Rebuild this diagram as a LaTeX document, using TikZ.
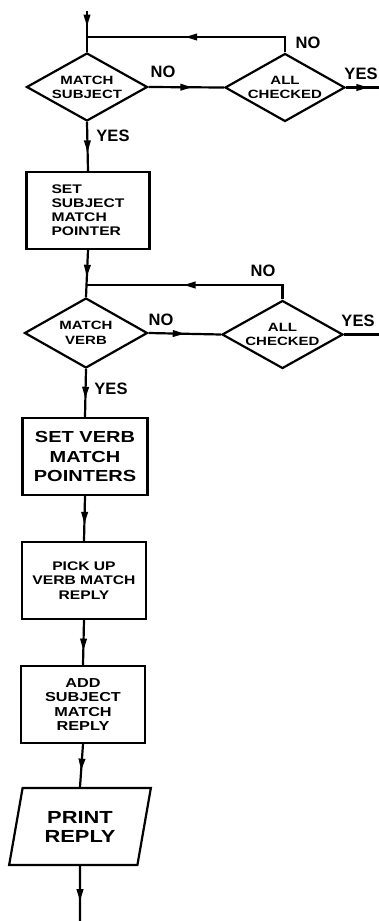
\documentclass[tikz,border=0pt]{standalone}
\usepackage{fontspec}
\setmainfont{Liberation Sans}
\newfontfamily\handfont[FakeStretch=1.25]{Liberation Sans Bold}
\newfontfamily\lblfont{Liberation Sans Bold}
\usetikzlibrary{shapes.geometric,arrows.meta,decorations.markings}
\tikzset{
  ln/.style={line width=2.2pt},
  flow/.style={line width=2.2pt,
    decoration={markings, mark=at position #1 with {\arrow{Triangle[length=12pt,width=6.5pt]}}},
    postaction={decorate}},
  flow/.default=0.5,
  box/.style={draw, line width=2.2pt, rectangle, minimum width=124pt, minimum height=77pt,
    inner sep=0pt, align=center, font=\handfont\fontsize{12.5}{14.5}\selectfont},
  dec/.style={draw, line width=2.2pt, diamond, aspect=1.78, minimum width=121pt,
    minimum height=68pt, inner sep=0pt, align=center, font=\handfont\fontsize{12}{14}\selectfont},
  io/.style={draw, line width=2.2pt, trapezium, trapezium left angle=75, trapezium right angle=105,
    trapezium stretches=true, minimum width=142pt, minimum height=77pt, inner sep=0pt,
    align=center, font=\handfont\fontsize{17.5}{19}\selectfont},
  lbl/.style={font=\lblfont\fontsize{16.5}{17}\selectfont, inner sep=0pt},
}
\begin{document}
\begin{tikzpicture}[x=1pt,y=-1pt]
\useasboundingbox (0,0) rectangle (379,921);
% shapes
\node[dec] (d1) at (87,87) {MATCH\\SUBJECT};
\node[dec, minimum width=120pt] (ac1) at (285,87.5) {ALL\\CHECKED};
\node[box, minimum width=123pt, align=left, font=\handfont\fontsize{12.5}{14}\selectfont] (b1) at (88,210.5) {SET\\SUBJECT\\MATCH\\POINTER};
\node[dec, minimum width=123pt, minimum height=70pt, font=\handfont\fontsize{12}{15}\selectfont] (d2) at (86,333) {MATCH\\VERB};
\node[dec] (ac2) at (282.5,334.5) {ALL\\CHECKED};
\node[box, minimum width=125pt, font=\handfont\fontsize{16}{19.5}\selectfont] (b2) at (85,456.5) {SET VERB\\MATCH\\POINTERS};
\node[box] (b3) at (84,580.5) {PICK UP\\VERB MATCH\\REPLY};
\node[box, font=\handfont\fontsize{13}{14.5}\selectfont] (b4) at (83,704.5) {ADD\\SUBJECT\\MATCH\\REPLY};
\node[io] (pr) at (80,826.5) {PRINT\\REPLY};
% free ends
\coordinate (top) at (87,11);
\coordinate (j1) at (87,37);
\coordinate (e1) at (379,87.5);
\coordinate (j2) at (87,285);
\coordinate (e2) at (379,334.5);
\coordinate (bot) at (80,921);
% connectors
\draw[flow=0.38] (top) -- (d1.north);
\draw[flow=0.58] (d1.east) -- (ac1.west);
\draw[flow=0.54] (ac1.north) |- (j1);
\draw[flow=0.68] (ac1.east) -- (e1);
\draw[flow=0.62] (d1.south) -- (b1.north);
\draw[flow=0.57] (b1.south) -- (d2.north);
\draw[flow=0.54] (ac2.north) |- (j2);
\draw[flow=0.5] (d2.east) -- (ac2.west);
\draw[ln] (ac2.east) -- (e2);
\draw[flow=0.62] (d2.south) -- (b2.north);
\draw[flow=0.62] (b2.south) -- (b3.north);
\draw[flow=0.68] (b3.south) -- (b4.north);
\draw[flow=0.62] (b4.south) -- (pr.north);
\draw[flow=0.64] (pr.south) -- (bot);
% labels
\node[lbl] (l1) at (308,43) {NO};
\node[lbl] (l2) at (163,72) {NO};
\node[lbl] (l3) at (361,74) {YES};
\node[lbl] (l4) at (113,136) {YES};
\node[lbl] (l5) at (263,271) {NO};
\node[lbl] (l6) at (161,320) {NO};
\node[lbl] (l7) at (358,321) {YES};
\node[lbl] (l8) at (111,389) {YES};
\end{tikzpicture}
\end{document}
